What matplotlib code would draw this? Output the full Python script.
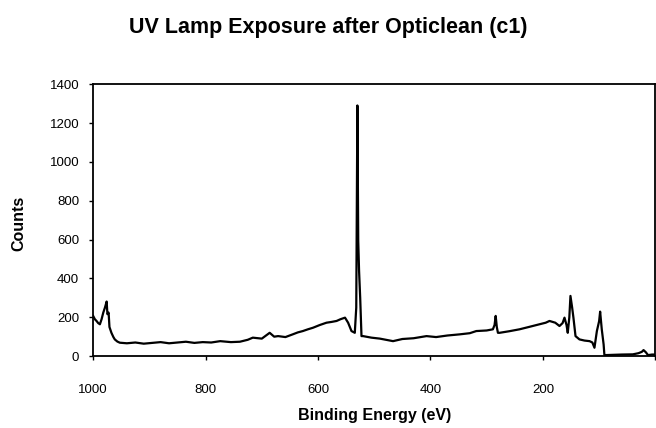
import numpy as np
import matplotlib.pyplot as plt

plt.rcParams['font.family'] = ['Liberation Sans', 'DejaVu Sans']

# Survey spectrum (binding energy in eV, counts)
energy = [1000, 997, 994, 991, 988, 985, 982, 979, 976, 974.6, 972.5, 971, 967.5, 964, 961.5, 957, 952.6,
          940, 925, 910, 895, 880, 865, 850, 835, 820, 805, 790, 774, 755, 739, 725, 716, 700, 686, 678,
          671, 658, 645, 636, 627, 618, 609, 597, 585, 576, 567, 560, 552, 546.5, 540.5, 534.6, 532,
          530, 528.5, 527, 525, 522.7, 520, 505, 490, 466.6, 450, 430, 407, 390, 370, 348, 330, 318.5,
          300, 289, 286, 284, 282, 280, 277, 260, 241.6, 225, 206, 195, 188.3, 178, 170.5, 165, 161.6,
          158, 155.8, 153, 151, 148, 145.7, 142, 135, 126, 117, 112, 108.3, 104, 100, 98.2, 95.3, 92,
          90.6, 80, 60, 40, 30, 24, 21, 17, 13, 6, 0]
counts = [207, 190, 181, 170, 164, 190, 224, 250, 281, 216, 224, 150, 120, 98, 86, 75, 69,
          66, 70, 64, 68, 72, 66, 70, 74, 68, 72, 70, 77, 72, 74, 84, 95, 90, 120, 100,
          103, 98, 112, 122, 129, 138, 146, 160, 172, 176, 181, 190, 198, 172, 129, 120, 250,
          1291, 594, 439, 300, 103, 103, 95, 90, 77, 88, 92, 103, 98, 106, 112, 118, 129,
          132, 138, 160, 207, 150, 120, 120, 128, 138, 150, 164, 172, 181, 172, 155, 170, 198,
          160, 120, 200, 310, 250, 198, 103, 86, 80, 77, 70, 43, 129, 180, 229, 138, 60,
          5, 6, 8, 9, 15, 22, 31, 20, 5, 8, 8]

x_ticks = [1000, 800, 600, 400, 200, 0]
x_tick_labels = ['1000', '800', '600', '400', '200', '']  # the 0 label is clipped off in the original
y_ticks = np.arange(0, 1401, 200)

fig = plt.figure(figsize=(6.56, 4.28), dpi=100)
ax = fig.add_axes([0.142, 0.168, 0.857, 0.635])

ax.plot(energy, counts, color='black', lw=1.6)

ax.set_xlim(1000, 0)
ax.set_ylim(0, 1400)
ax.set_xticks(x_ticks)
ax.set_xticklabels(x_tick_labels)
ax.set_yticks(y_ticks)
ax.tick_params(direction='out', length=3, width=1, labelsize=9.5)
ax.tick_params(axis='x', pad=17)
ax.tick_params(axis='y', pad=7)
for s in ax.spines.values():
    s.set_linewidth(1.3)
    s.set_color('black')

ax.set_xlabel('Binding Energy (eV)', fontsize=11.5, fontweight='bold', va='center')
ax.xaxis.set_label_coords(0.5, -0.217)
ax.set_ylabel('Counts', fontsize=11.5, fontweight='bold', va='center')
ax.yaxis.set_label_coords(-0.133, 0.49)
fig.text(0.5, 0.935, 'UV Lamp Exposure after Opticlean (c1)', fontsize=15.5, fontweight='bold',
         ha='center', va='center')

fig.savefig('out.png', dpi=100)
